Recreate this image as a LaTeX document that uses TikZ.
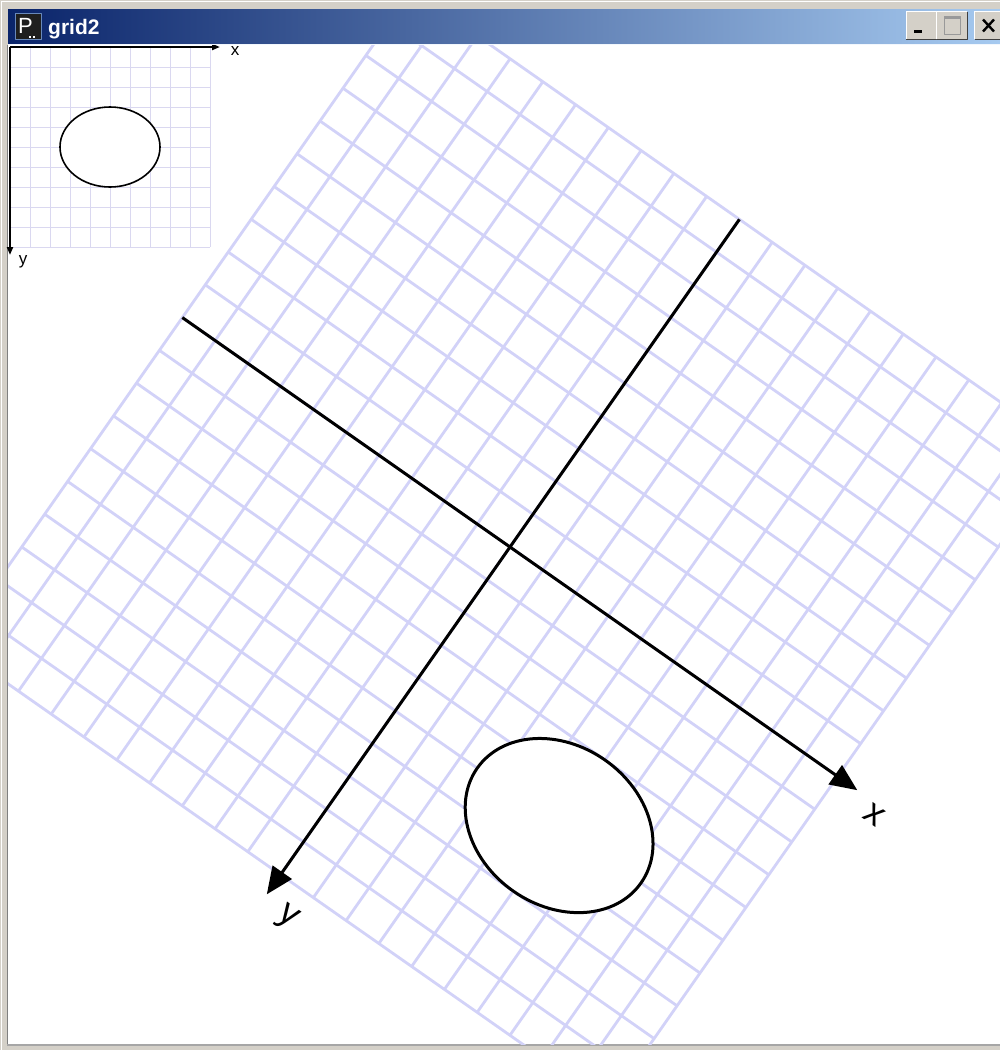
\documentclass[tikz,border=0pt]{standalone}
\usepackage{fontspec}
\setmainfont{Liberation Sans}
\usetikzlibrary{arrows.meta}
\definecolor{gridc}{RGB}{210,210,248}
\definecolor{sgridc}{RGB}{218,216,240}
\definecolor{winbg}{RGB}{212,208,200}
\definecolor{titleL}{RGB}{10,36,106}
\definecolor{titleR}{RGB}{166,202,240}
\definecolor{btndark}{RGB}{64,64,64}
\begin{document}
\begin{tikzpicture}[x=1pt,y=-1pt,line join=round,
  smallgrid/.style={sgridc,line width=1pt},
  biggrid/.style={gridc,line width=2.8pt},
  axisS/.style={line width=2.2pt,-{Triangle[length=8pt,width=6pt]}},
  axisB/.style={line width=3pt,-{Triangle[length=27pt,width=23pt]}},
  shapeS/.style={line width=1.6pt,fill=white},
  shapeB/.style={line width=3pt,fill=white},
  lblS/.style={font=\fontsize{17}{17}\selectfont,inner sep=0pt},
  lblB/.style={font=\fontsize{36}{36}\selectfont,inner sep=0pt,rotate=-35},
  btn/.style={fill=winbg,minimum width=30pt,minimum height=27pt,inner sep=0pt},
  hiline/.style={white,line width=1.2pt},
  loline/.style={btndark,line width=1.2pt}
]
\useasboundingbox (0,0) rectangle (1000,1050);
% window frame and client area
\fill[winbg] (0,0) rectangle (1000,1050);
\draw[white,line width=1pt] (1.5,1050) -- (1.5,1.5) -- (1000,1.5);
\draw[gray,line width=1pt] (7,1046) -- (7,45);
\draw[gray!70,line width=1.5pt] (7,1045) -- (1000,1045);
\fill[white] (8,45) rectangle (1000,1044);

% big rotated view
\begin{scope}
\clip (8,45) rectangle (1000,1044);
\begin{scope}[shift={(510,547)},rotate=-35,scale=2]
  \foreach \i in {-200,-180,...,200}{
    \draw[biggrid] (\i,-200) -- (\i,200);
    \draw[biggrid] (-200,\i) -- (200,\i);
  }
  \draw[shapeB] (100,100) ellipse [x radius=50,y radius=40];
  \coordinate (bxa) at (-200,0);
  \coordinate (bxb) at (212,0);
  \coordinate (bya) at (0,-200);
  \coordinate (byb) at (0,212);
  \draw[axisB] (bxa) -- (bxb);
  \draw[axisB] (bya) -- (byb);
  \node[lblB] (bxl) at (226,5) {x};
  \node[lblB] (byl) at (15,216) {y};
\end{scope}
\end{scope}

% small untransformed view
\begin{scope}[shift={(10,47)}]
  \foreach \i in {0,20,...,200}{
    \draw[smallgrid] (\i,0) -- (\i,200);
    \draw[smallgrid] (0,\i) -- (200,\i);
  }
  \draw[shapeS] (100,100) ellipse [x radius=50,y radius=40];
  \coordinate (sO) at (0,0);
  \coordinate (sxb) at (210,0);
  \coordinate (syb) at (0,208);
  \draw[axisS] (sO) -- (sxb);
  \draw[axisS] (sO) -- (syb);
  \node[lblS] (sxl) at (225,4) {x};
  \node[lblS] (syl) at (13,215) {y};
\end{scope}

% title bar
\shade[left color=titleL,right color=titleR] (8,9) rectangle (1000,44);
\draw[white!85!titleR,line width=1pt] (8,44.5) -- (1000,44.5);
\node[fill=black!88,draw=titleR!60!titleL,line width=0.8pt,minimum size=26pt,inner sep=0pt] (icon) at (28.5,26.5) {};
\node[text=white,font=\fontsize{22}{22}\selectfont,inner sep=0pt,anchor=base] (iconP) at ([shift={(-3,7)}]icon.center) {P};
\fill[white] ([shift={(0,9)}]icon.center) rectangle ([shift={(2,11)}]icon.center);
\fill[white] ([shift={(4,9)}]icon.center) rectangle ([shift={(6,11)}]icon.center);
\node[text=white,font=\bfseries\fontsize{21}{21}\selectfont,inner sep=0pt,anchor=base west] (title) at (48,34) {grid2};

% caption buttons
\node[btn] (bmin) at (921.5,25.5) {};
\node[btn] (bmax) at (952,25.5) {};
\node[btn] (bcls) at (990,25.5) {};
\foreach \b in {bmin,bmax,bcls}{
  \draw[hiline] (\b.south west) -- (\b.north west) -- (\b.north east);
  \draw[loline] (\b.north east) -- (\b.south east) -- (\b.south west);
}
\fill[black] ([shift={(-8,4)}]bmin.center) rectangle ([shift={(0,7)}]bmin.center);
\draw[gray!80,line width=1pt] ([shift={(-8,-9)}]bmax.center) rectangle ([shift={(8,9)}]bmax.center);
\draw[gray!80,line width=2pt] ([shift={(-8,-8)}]bmax.center) -- ([shift={(8,-8)}]bmax.center);
\draw[black,line width=2.4pt] ([shift={(-7,-6)}]bcls.center) -- ([shift={(4,6)}]bcls.center);
\draw[black,line width=2.4pt] ([shift={(-7,6)}]bcls.center) -- ([shift={(4,-6)}]bcls.center);
\end{tikzpicture}
\end{document}
